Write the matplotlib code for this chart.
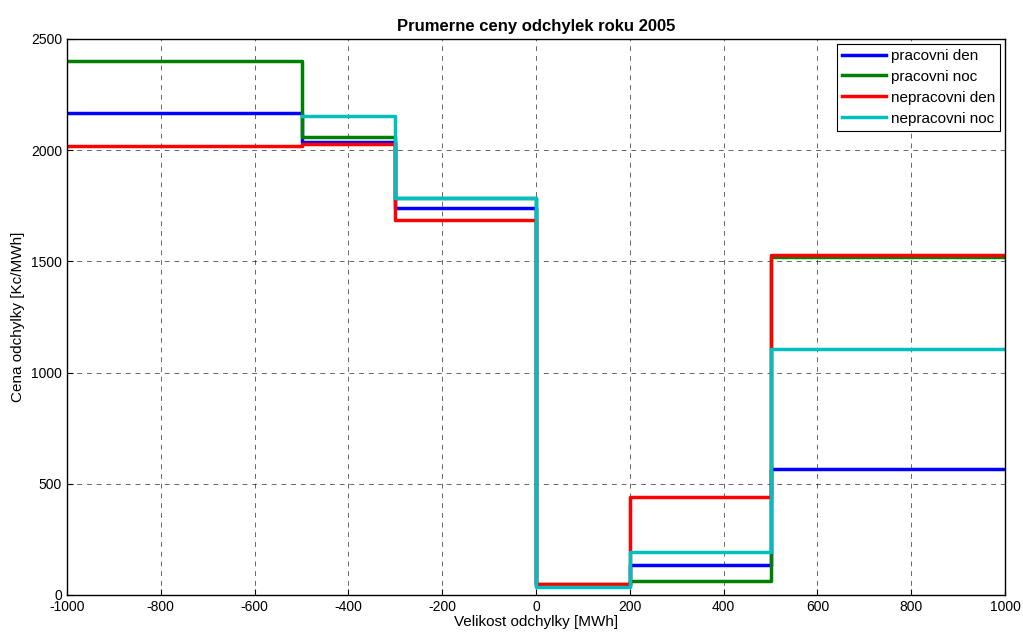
import numpy as np
import matplotlib
matplotlib.use("Agg")
import matplotlib.pyplot as plt

plt.rcParams['font.family'] = ['Liberation Sans', 'DejaVu Sans']
plt.rcParams['axes.unicode_minus'] = False

# Interval edges of the deviation size [MWh]
edges = [-1000, -500, -300, 0, 200, 500, 1000]

# Average deviation prices per interval [Kc/MWh]
pracovni_den = [2167, 2035, 1741, 40, 136, 568]
pracovni_noc = [2401, 2059, 1784, 50, 64, 1520]
nepracovni_den = [2019, 2027, 1686, 48, 442, 1529]
nepracovni_noc = [2154, 2154, 1784, 35, 193, 1106]
# first interval of "nepracovni noc" starts at -500
noc_edges = edges[1:]
nepracovni_noc = nepracovni_noc[1:]

series = [
    ("pracovni den", edges, pracovni_den, "#0000ff"),
    ("pracovni noc", edges, pracovni_noc, "#008000"),
    ("nepracovni den", edges, nepracovni_den, "#ff0000"),
    ("nepracovni noc", noc_edges, nepracovni_noc, "#00bfbf"),
]

fig = plt.figure(figsize=(10.23, 6.34), dpi=100)
ax = fig.add_axes([67 / 1023, 39 / 634, 938 / 1023, 556 / 634])

for label, x, y, color in series:
    ax.step(x, list(y) + [y[-1]], where='post', color=color, lw=2.5, label=label)

ax.set_xlim(-1000, 1000)
ax.set_ylim(0, 2500)
ax.set_xticks(np.arange(-1000, 1001, 200))
ax.set_yticks(np.arange(0, 2501, 500))
ax.grid(True, color='black', linestyle=(0, (5, 5)), lw=0.7, alpha=0.6)
ax.tick_params(direction='in', labelsize=10, length=4)
for s in ax.spines.values():
    s.set_linewidth(1.0)

ax.set_title("Prumerne ceny odchylek roku 2005", fontsize=12, fontweight='bold', pad=6)
ax.set_xlabel("Velikost odchylky [MWh]", fontsize=11, labelpad=1)
ax.set_ylabel("Cena odchylky [Kc/MWh]", fontsize=11, labelpad=4)

leg = ax.legend(loc='upper right', fontsize=11, fancybox=False, framealpha=1,
                edgecolor='black', handlelength=2.9, borderpad=0.35,
                labelspacing=0.45, handletextpad=0.3, borderaxespad=0.3)
leg.get_frame().set_linewidth(0.8)

fig.savefig("out.png", dpi=100)
